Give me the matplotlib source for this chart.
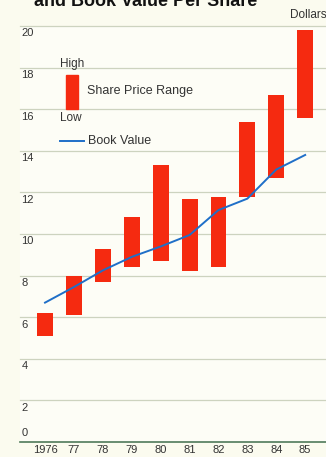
import matplotlib.pyplot as plt
from matplotlib.patches import Rectangle
from matplotlib.lines import Line2D

plt.rcParams["font.family"] = ["Liberation Sans", "DejaVu Sans"]

years = ["1976", "77", "78", "79", "80", "81", "82", "83", "84", "85"]
price_low = [5.1, 6.1, 7.7, 8.4, 8.7, 8.2, 8.4, 11.8, 12.7, 15.6]
price_high = [6.2, 8.0, 9.3, 10.8, 13.3, 11.7, 11.8, 15.4, 16.7, 19.8]
book_value = [6.7, 7.45, 8.25, 8.9, 9.4, 9.95, 11.15, 11.7, 13.1, 13.8]
y_ticks = [0, 2, 4, 6, 8, 10, 12, 14, 16, 18, 20]

BG = "#fbfbef"
RED = "#f52a10"
BLUE = "#1f6fc8"
GRID = "#cdd3bf"
TEXT = "#333333"

W, H = 326, 457
fig = plt.figure(figsize=(W / 100, H / 100), dpi=100, facecolor=BG)
# plot area: x from px 20 to right edge, y from 0 line (px 442) to 20 line (px 26)
ax = fig.add_axes([20 / W, (H - 442) / H, 1 - 20 / W, (442 - 26) / H])
ax.set_facecolor("#fdfdf6")
for s in ax.spines.values():
    s.set_visible(False)

x = list(range(len(years)))
ax.set_xlim(-0.865, 9.72)
ax.set_ylim(0, 20)

# horizontal rules with value labels tucked underneath (0 sits on top)
for v in y_ticks:
    if v == 0:
        ax.axhline(v, color="#4f7a5a", lw=1.2, clip_on=False, zorder=1)
        ax.text(-0.82, 0.2, "0", ha="left", va="bottom", fontsize=8,
                color=TEXT)
    else:
        ax.axhline(v, color=GRID, lw=0.9, clip_on=False, zorder=1)
        ax.text(-0.82, v - 0.12, str(v), ha="left", va="top", fontsize=8,
                color=TEXT)

# high/low share price bars
heights = [h - l for h, l in zip(price_high, price_low)]
ax.bar(x, heights, bottom=price_low, width=0.55, color=RED, zorder=2)

ax.plot(x, book_value, color=BLUE, lw=1.4, zorder=3)

for xi, lab in zip(x, years):
    ax.text(xi, -0.14, lab, ha="center", va="top", fontsize=8, color=TEXT)

ax.set_xticks([])
ax.set_yticks([])

# legend drawn by hand in pixel space
def px(xp, yp):
    return xp / W, 1 - yp / H

fig.text(*px(60, 64), "High", fontsize=8.5, color=TEXT, ha="left", va="center")
fig.text(*px(60, 118), "Low", fontsize=8.5, color=TEXT, ha="left", va="center")
fig.patches.append(Rectangle(px(66, 109), 12 / W, 34 / H,
                             transform=fig.transFigure, color=RED))
fig.text(*px(87, 91), "Share Price Range", fontsize=9, color=TEXT,
         ha="left", va="center")
fig.lines.append(Line2D([60 / W, 84 / W], [1 - 141 / H] * 2,
                        transform=fig.transFigure, color=BLUE, lw=1.4))
fig.text(*px(88, 141), "Book Value", fontsize=9, color=TEXT,
         ha="left", va="center")

fig.text(*px(290, 15), "Dollars", fontsize=8.5, color=TEXT, ha="left",
         va="center")
fig.text(*px(146, 6), "and Book Value Per Share", fontsize=13,
         fontweight="bold", color="#111111", ha="center", va="baseline")

fig.savefig("out.png", dpi=100, facecolor=BG)
